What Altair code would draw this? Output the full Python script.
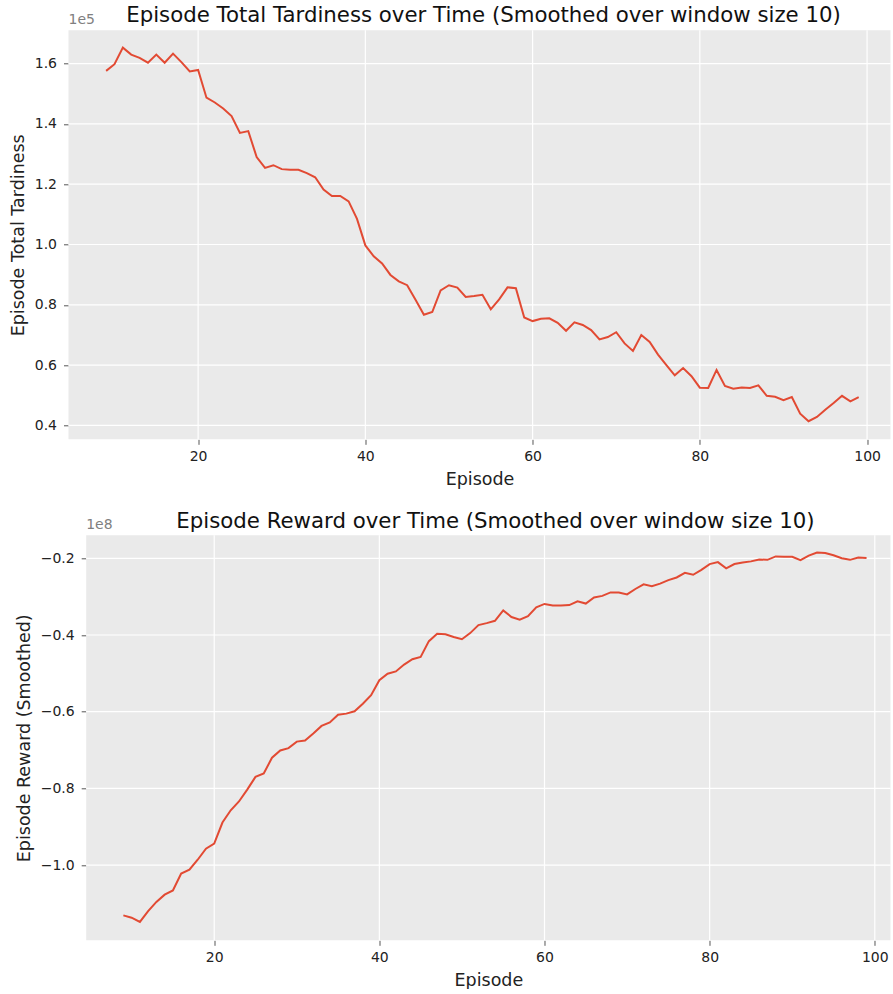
import altair as alt
import pandas as pd

FONT = "DejaVu Sans"

episodes = list(range(9, 100))

# Episode total tardiness (units of 1e5), smoothed, episodes 9..99
tardiness_e5 = [
    1.576, 1.598, 1.653, 1.630, 1.619, 1.603, 1.630, 1.603, 1.633, 1.605,
    1.574, 1.579, 1.487, 1.471, 1.451, 1.426, 1.370, 1.376, 1.290, 1.254,
    1.263, 1.250, 1.248, 1.248, 1.237, 1.223, 1.182, 1.161, 1.161, 1.143,
    1.085, 0.997, 0.961, 0.937, 0.899, 0.878, 0.865, 0.817, 0.767, 0.776,
    0.848, 0.865, 0.857, 0.826, 0.829, 0.833, 0.785, 0.818, 0.858, 0.855,
    0.758, 0.746, 0.754, 0.755, 0.740, 0.714, 0.742, 0.733, 0.716, 0.685,
    0.693, 0.709, 0.672, 0.647, 0.700, 0.677, 0.635, 0.600, 0.566, 0.590,
    0.563, 0.525, 0.524, 0.584, 0.531, 0.522, 0.526, 0.524, 0.533, 0.498,
    0.495, 0.484, 0.494, 0.439, 0.414, 0.428, 0.452, 0.474, 0.498, 0.480,
    0.494,
]

# Episode reward (units of 1e8), smoothed, episodes 9..99
reward_e8 = [
    -1.131, -1.137, -1.148, -1.120, -1.096, -1.077, -1.066, -1.022, -1.012, -0.986,
    -0.957, -0.944, -0.889, -0.857, -0.834, -0.803, -0.770, -0.761, -0.720, -0.701,
    -0.695, -0.678, -0.675, -0.657, -0.637, -0.628, -0.608, -0.605, -0.599, -0.579,
    -0.557, -0.518, -0.501, -0.495, -0.477, -0.463, -0.457, -0.416, -0.397, -0.398,
    -0.405, -0.411, -0.395, -0.374, -0.369, -0.363, -0.336, -0.353, -0.360, -0.351,
    -0.328, -0.319, -0.323, -0.323, -0.322, -0.312, -0.318, -0.302, -0.298, -0.289,
    -0.289, -0.294, -0.280, -0.268, -0.273, -0.266, -0.257, -0.250, -0.238, -0.243,
    -0.230, -0.215, -0.210, -0.226, -0.215, -0.211, -0.208, -0.203, -0.204, -0.195,
    -0.196, -0.196, -0.205, -0.193, -0.185, -0.186, -0.192, -0.200, -0.204, -0.198,
    -0.199,
]

x_ticks = [20, 40, 60, 80, 100]
top_y_ticks = [40000, 60000, 80000, 100000, 120000, 140000, 160000]
bottom_y_ticks = [-1.0e8, -0.8e8, -0.6e8, -0.4e8, -0.2e8]

top_title = "Episode Total Tardiness over Time (Smoothed over window size 10)"
bottom_title = "Episode Reward over Time (Smoothed over window size 10)"

df_top = pd.DataFrame({"episode": episodes, "value": [v * 1e5 for v in tardiness_e5]})
df_bot = pd.DataFrame({"episode": episodes, "value": [v * 1e8 for v in reward_e8]})

LINE = "#E24A33"
BG = "#EAEAEA"


def panel(df, title, ytitle, ydomain, yticks, div, offset_text,
          xdomain, width, height, left, title_offset, title_dx):
    x_enc = alt.X(
        "episode:Q",
        scale=alt.Scale(domain=xdomain, range=[left, width], nice=False, zero=False),
        axis=alt.Axis(values=x_ticks, title="Episode", format="d"),
    )
    y_enc = alt.Y(
        "value:Q",
        scale=alt.Scale(domain=ydomain, nice=False, zero=False),
        axis=alt.Axis(
            values=yticks,
            labelExpr=f"format(datum.value / {div}, '.1f')",
            title=ytitle,
            offset=-left,
        ),
    )

    bg = alt.Chart(pd.DataFrame({"a": [0]})).mark_rect(fill=BG).encode(
        x=alt.value(left), x2=alt.value(width), y=alt.value(0), y2=alt.value(height)
    )
    hgrid = alt.Chart(pd.DataFrame({"value": yticks})).mark_rule(
        color="white", strokeWidth=1.2
    ).encode(
        y=y_enc, x=alt.value(left), x2=alt.value(width),
    )
    vgrid = alt.Chart(pd.DataFrame({"episode": x_ticks})).mark_rule(
        color="white", strokeWidth=1.2
    ).encode(
        x=x_enc, y=alt.value(0), y2=alt.value(height),
    )
    line = alt.Chart(df).mark_line(color=LINE, strokeWidth=2).encode(x=x_enc, y=y_enc)
    off = alt.Chart(pd.DataFrame({"t": [offset_text]})).mark_text(
        align="left", baseline="alphabetic", fontSize=14, font=FONT, color="#808080"
    ).encode(x=alt.value(left), y=alt.value(-6), text="t:N")
    return alt.layer(bg, hgrid, vgrid, line, off).properties(
        width=width,
        height=height,
        title=alt.TitleParams(
            text=title, fontSize=21.3, font=FONT, fontWeight="normal", color="#111111",
            anchor="middle", baseline="alphabetic", offset=title_offset, dx=title_dx,
        ),
    )


top = panel(df_top, top_title, "Episode Total Tardiness",
            [35390, 171050], top_y_ticks, 1e5, "1e5",
            [4.5, 102.8], 822, 409, 0, -30, 4)
bottom = panel(df_bot, bottom_title, "Episode Reward (Smoothed)",
               [-1.196e8, -0.140e8], bottom_y_ticks, 1e8, "1e8",
               [4.5, 101.9], 822, 405, 17.7, -31, 16)

chart = alt.concat(top, bottom, columns=1, align="none", spacing=22).properties(
    padding={"left": 8.5, "top": 4.3, "right": 0, "bottom": 0},
    background="white",
).configure_view(
    fill=None, stroke=None
).configure_axis(
    domain=False,
    grid=False,
    tickColor="#555555",
    tickSize=5,
    tickWidth=1,
    labelFont=FONT,
    labelFontSize=14,
    labelColor="#222222",
    labelPadding=7,
    titleFont=FONT,
    titleFontSize=17.5,
    titleFontWeight="normal",
    titleColor="#222222",
).configure_axisX(
    labelPadding=5,
    titlePadding=7,
).configure_axisY(
    titlePadding=7,
)

chart.save("out.html", embed_options={"renderer": "svg", "actions": False})
